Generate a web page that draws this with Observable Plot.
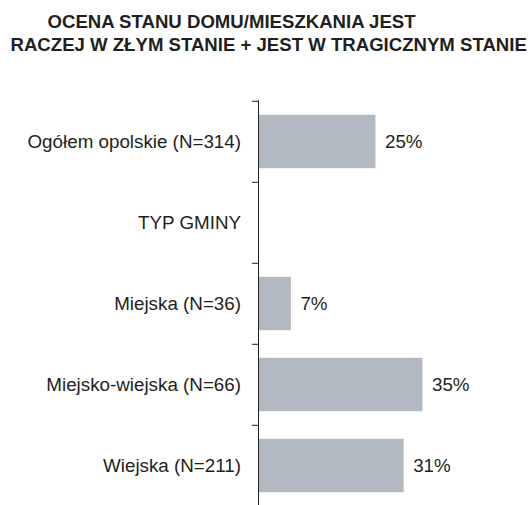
<!DOCTYPE html>
<html>
<head>
<meta charset="utf-8">
<script src="https://cdn.jsdelivr.net/npm/d3@7"></script>
<script src="https://cdn.jsdelivr.net/npm/@observablehq/plot@0.6"></script>
<style>
  html, body { margin: 0; padding: 0; background: #fff; overflow: hidden; }
  #title { position: relative; height: 60px; font-family: "Liberation Sans", Arial, sans-serif; font-weight: bold; font-size: 18.6px; line-height: 20px; color: #231f20; white-space: nowrap; }
  #title div { position: absolute; }
  #chart svg { display: block; }
</style>
</head>
<body>
<div id="title">
  <div style="left:47.5px; top:12.3px;">OCENA STANU DOMU/MIESZKANIA JEST</div>
  <div style="left:10.5px; top:35.2px;">RACZEJ W ZŁYM STANIE + JEST W TRAGICZNYM STANIE</div>
</div>
<div id="chart"></div>
<script>
const categories = ["Ogółem opolskie (N=314)", "TYP GMINY", "Miejska (N=36)", "Miejsko-wiejska (N=66)", "Wiejska (N=211)"];
const values = [25, null, 7, 35, 31];

const rows = categories.map((c, i) => ({category: c, value: values[i]}));
const bars = rows.filter(d => d.value != null);

const width = 531, height = 448, mt = 40.3, mb = 0.7;
const bw = (height - mt - mb) / categories.length;

const chart = Plot.plot({
  width, height,
  marginLeft: 258, marginRight: 0.5, marginTop: mt, marginBottom: mb,
  style: {fontFamily: "Liberation Sans, Arial, sans-serif", fontSize: "18.8px", color: "#231f20", background: "#fff"},
  x: {domain: [0, 58], axis: null},
  y: {domain: categories, padding: 0, label: null},
  marks: [
    Plot.barX(bars, {y: "category", x: "value", fill: "#b3b9c0", insetTop: 13.8, insetBottom: 13.8}),
    Plot.text(bars, {y: "category", x: "value", text: d => d.value + "%", dx: 9, textAnchor: "start", fill: "#231f20", fontSize: 18.8}),
    Plot.axisY({tickSize: 6, tickFormat: () => "", dy: -bw / 2, label: null}),
    Plot.axisY({tickSize: 0, tickPadding: 17.5, fontSize: 18.8, label: null}),
    Plot.ruleX([0], {stroke: "#231f20"})
  ]
});
document.getElementById("chart").appendChild(chart);
</script>
</body>
</html>
